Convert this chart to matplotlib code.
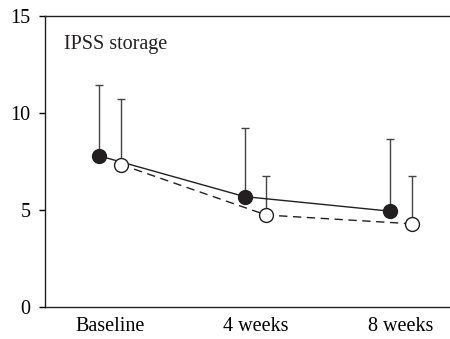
import matplotlib
matplotlib.use("Agg")
import matplotlib.pyplot as plt
import numpy as np

categories = ["Baseline", "4 weeks", "8 weeks"]
group_a_mean = [7.8, 5.7, 4.95]
group_a_upper = [11.45, 9.25, 8.65]
group_b_mean = [7.35, 4.75, 4.3]
group_b_upper = [10.75, 6.75, 6.75]
yticks = [0, 5, 10, 15]

plt.rcParams['font.family'] = ['Liberation Serif', 'DejaVu Serif']
dark = '#231f20'

fig = plt.figure(figsize=(4.5, 3.39), dpi=100)
ax = fig.add_axes([45/450, 1 - 307.3/339, 1 - 45/450, (307.3 - 16)/339])

x = np.arange(len(categories))
off = 0.075
xa = x - off
xb = x + off

ea = np.array(group_a_upper) - np.array(group_a_mean)
eb = np.array(group_b_upper) - np.array(group_b_mean)

ax.errorbar(xa, group_a_mean, yerr=[np.zeros_like(ea), ea], fmt='none',
            ecolor='#444444', elinewidth=1.0, capsize=3, capthick=1.0, zorder=2)
ax.errorbar(xb, group_b_mean, yerr=[np.zeros_like(eb), eb], fmt='none',
            ecolor='#444444', elinewidth=1.0, capsize=3, capthick=1.0, zorder=2)
ax.plot(xa, group_a_mean, '-', color=dark, lw=1.0, marker='o', ms=10,
        mfc=dark, mec=dark, zorder=3)
ax.plot(xb, group_b_mean, '--', color=dark, lw=1.0, dashes=(6, 4), marker='o', ms=10,
        mfc='white', mec=dark, mew=1.0, zorder=3)

ax.set_ylim(0, 15)
ax.set_xlim(-0.447, 2.337)
ax.set_yticks(yticks)
ax.set_xticks(x)
ax.set_xticklabels(categories)
ax.tick_params(axis='x', length=0, pad=7, labelsize=14.5)
ax.tick_params(axis='y', length=4.3, width=1, direction='out', labelsize=14.5, pad=6)
ax.spines['right'].set_visible(False)
for s in ['left', 'bottom', 'top']:
    ax.spines[s].set_linewidth(1.0)
    ax.spines[s].set_color(dark)

ax.text(64/450, 1 - 44/339, "IPSS storage", transform=fig.transFigure,
        fontsize=14.5, va='center', ha='left', color=dark)

fig.savefig("out.png", dpi=100)
